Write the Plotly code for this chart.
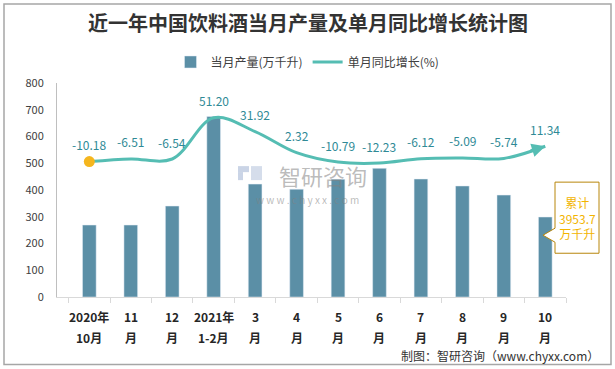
import plotly.graph_objects as go

categories = ["2020年10月", "11月", "12月", "2021年1-2月", "3月", "4月", "5月", "6月", "7月", "8月", "9月", "10月"]
tick_line1 = ["2020年", "11", "12", "2021年", "3", "4", "5", "6", "7", "8", "9", "10"]
tick_line2 = ["10月", "月", "月", "1-2月", "月", "月", "月", "月", "月", "月", "月", "月"]
production = [269, 269, 340, 675, 422, 403, 440, 481, 441, 415, 381, 299]
growth = [-10.18, -6.51, -6.54, 51.20, 31.92, 2.32, -10.79, -12.23, -6.12, -5.09, -5.74, 11.34]
growth_labels = ["-10.18", "-6.51", "-6.54", "51.20", "31.92", "2.32", "-10.79", "-12.23", "-6.12", "-5.09", "-5.74", "11.34"]
y_ticks = [0, 100, 200, 300, 400, 500, 600, 700, 800]

W, H = 615, 369
L, R, T, B = 57, 566, 83, 296.7

def px(x):
    return (x - L) / (R - L)

def py(y):
    return (B - y) / (B - T)

BAR = "#5B8FA6"
LINE = "#55BDB3"
LABEL = "#2F8A96"
GOLD = "#B8860B"
FONT = "Noto Sans CJK SC"

fig = go.Figure()
fig.add_trace(go.Bar(x=categories, y=production, name="当月产量(万千升)",
                     marker_color=BAR, width=0.33, yaxis="y"))
fig.add_trace(go.Scatter(x=categories, y=growth, name="单月同比增长(%)", mode="lines",
                         line=dict(color=LINE, width=3, shape="spline", smoothing=1.0),
                         yaxis="y2"))
fig.add_trace(go.Scatter(x=categories[:1], y=growth[:1], mode="markers", showlegend=False,
                         marker=dict(color="#F5B61E", size=11), yaxis="y2"))

ann = []
for c, g, t in zip(categories, growth, growth_labels):
    ann.append(dict(x=c, y=g, xref="x", yref="y2", text=t, showarrow=False, yshift=17,
                    xanchor="center", yanchor="middle",
                    font=dict(family=FONT, size=12, color=LABEL)))
# arrow head at line end
ann.append(dict(x=categories[-1], y=growth[-1], xref="x", yref="y2", ax=-16, ay=5,
                axref="pixel", ayref="pixel", showarrow=True, arrowhead=2, arrowsize=0.9,
                arrowwidth=3, arrowcolor=LINE, text=""))
# two-line tick labels
for c, a, b in zip(categories, tick_line1, tick_line2):
    ann.append(dict(x=c, y=py(316), xref="x", yref="paper", text="<b>%s</b>" % a, showarrow=False,
                    xanchor="center", yanchor="middle",
                    font=dict(family=FONT, size=12, color="#262626")))
    ann.append(dict(x=c, y=py(337), xref="x", yref="paper", text="<b>%s</b>" % b, showarrow=False,
                    xanchor="center", yanchor="middle",
                    font=dict(family=FONT, size=12, color="#262626")))
# title
ann.append(dict(x=px(W / 2), y=py(23), xref="paper", yref="paper", xanchor="center", yanchor="middle",
                text="<b>近一年中国饮料酒当月产量及单月同比增长统计图</b>", showarrow=False,
                font=dict(family=FONT, size=20, color="#333333")))
# callout text
ann.append(dict(x=px(577), y=py(218), xref="paper", yref="paper", text="累计<br>3953.7<br>万千升",
                xanchor="center", yanchor="middle",
                showarrow=False, font=dict(family=FONT, size=12, color="#F2B400")))
# watermark
ann.append(dict(x=px(323), y=py(175), xref="paper", yref="paper", text="智研咨询", showarrow=False,
                xanchor="center", yanchor="middle",
                font=dict(family=FONT, size=22, color="rgba(130,130,130,0.55)")))
ann.append(dict(x=px(307), y=py(199), xref="paper", yref="paper", text="w w w . c h y x x . c o m",
                xanchor="center", yanchor="middle",
                showarrow=False, font=dict(family=FONT, size=10, color="rgba(130,130,130,0.55)")))
# footer
ann.append(dict(x=px(601), y=py(355), xref="paper", yref="paper", xanchor="right", yanchor="middle",
                text="制图：智研咨询（www.chyxx.com）", showarrow=False,
                font=dict(family=FONT, size=12, color="#333333")))

shapes = [
    dict(type="rect", xref="paper", yref="paper", x0=px(4), x1=px(611), y0=py(4), y1=py(364),
         line=dict(color="#A6A6A6", width=1.5), fillcolor="rgba(0,0,0,0)", layer="below"),
    dict(type="path", xref="paper", yref="paper",
         path="M %f,%f L %f,%f L %f,%f L %f,%f L %f,%f L %f,%f L %f,%f Z" % (
             px(555), py(182), px(599), py(182), px(599), py(253), px(555), py(253),
             px(555), py(242), px(543), py(235), px(555), py(228)),
         line=dict(color=GOLD, width=1), fillcolor="white"),
    # watermark logo approximation
    dict(type="rect", xref="paper", yref="paper", x0=px(238), x1=px(249), y0=py(166), y1=py(172),
         line=dict(width=0), fillcolor="rgba(150,170,205,0.5)"),
    dict(type="rect", xref="paper", yref="paper", x0=px(238), x1=px(243), y0=py(172), y1=py(180),
         line=dict(width=0), fillcolor="rgba(150,170,205,0.5)"),
    dict(type="rect", xref="paper", yref="paper", x0=px(251), x1=px(262), y0=py(166), y1=py(180),
         line=dict(width=0), fillcolor="rgba(150,170,205,0.4)"),
]

fig.update_layout(
    width=W, height=H,
    margin=dict(l=L, r=W - R, t=T, b=H - B, autoexpand=False),
    paper_bgcolor="white", plot_bgcolor="white",
    font=dict(family=FONT, size=12, color="#404040"),
    showlegend=True,
    legend=dict(orientation="h", x=px(W / 2), xanchor="center", y=py(62), yanchor="middle",
                font=dict(family=FONT, size=12, color="#404040"), itemwidth=30, tracegroupgap=0),
    bargap=0.67,
    xaxis=dict(type="category", showticklabels=False, showline=True, linecolor="#D9D9D9",
               ticks="outside", tickson="boundaries", ticklen=5, tickcolor="#D9D9D9",
               showgrid=False),
    yaxis=dict(range=[0, 800], tickvals=y_ticks, showline=True, linecolor="#BFBFBF",
               showgrid=False, zeroline=False, ticks="", ticklabelstandoff=10,
               tickfont=dict(family=FONT, size=11, color="#404040")),
    yaxis2=dict(range=[-200, 100], overlaying="y", side="right", visible=False),
    annotations=ann,
    shapes=shapes,
)

fig.write_html("out.html", config={"displayModeBar": False},
               post_script="document.body.style.margin='0';document.body.style.overflow='hidden';")
